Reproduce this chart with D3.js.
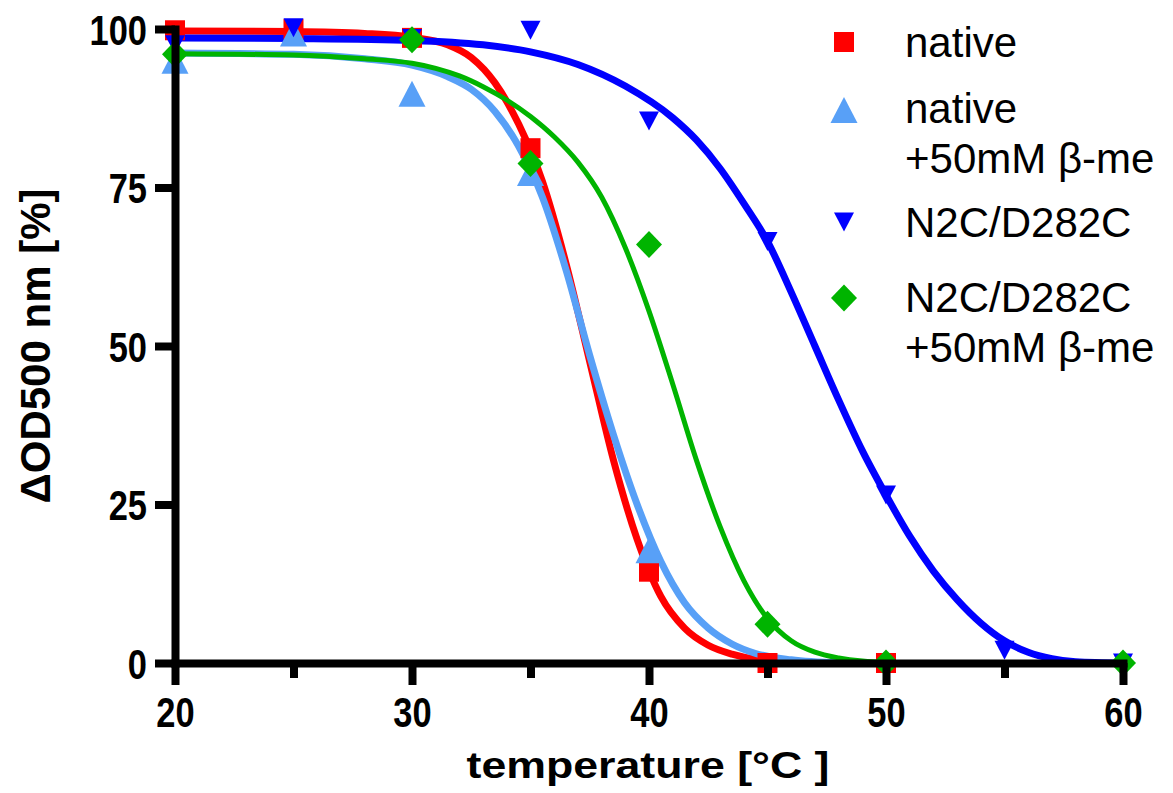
<!DOCTYPE html>
<html>
<head>
<meta charset="utf-8">
<script src="https://cdn.jsdelivr.net/npm/d3@7"></script>
<style>
  body { margin: 0; background: #fff; }
  text { font-family: "Liberation Sans", Arial, sans-serif; }
</style>
</head>
<body>
<div id="chart"></div>
<script>
// axis ticks
const xMajor = [20, 30, 40, 50, 60];
const xMinor = [25, 35, 45, 55];
const yTicks = [0, 25, 50, 75, 100];

// measured points
const nativeT = [20, 25, 30, 35, 40, 45, 50];
const nativeV = [99.8, 100, 98.6, 81.2, 14.4, 0, 0];
const nativeBmeT = [20, 25, 30, 35, 40];
const nativeBmeV = [95, 99.3, 89.8, 77.3, 17.8];
const mutantT = [20, 25, 30, 35, 40, 45, 50, 55, 60];
const mutantV = [97.5, 100.2, 98.5, 99.8, 85.5, 66.5, 26.5, 2, 0];
const mutantBmeT = [20, 30, 35, 40, 45, 50, 60];
const mutantBmeV = [96, 98.3, 78.8, 66, 6.1, 0, 0];

// fitted curves
const nativeFitT = [20, 25, 28, 30, 31.5, 32.5, 33.5, 34.5, 35.5, 36.5, 37.5, 38.5, 39.5, 40.5, 41.5, 42.5, 43.5, 44.5, 46, 48];
const nativeFitV = [99.7, 99.6, 99.3, 98.7, 97.5, 95.5, 91.5, 85, 76, 63, 47.5, 32, 19.5, 10.5, 5.5, 2.8, 1.4, 0.6, 0.2, 0];
const nativeBmeFitT = [20, 25, 28, 30, 31.5, 32.5, 33.5, 34.5, 35.5, 36.5, 37.5, 38.5, 39.5, 40.5, 41.5, 42.5, 43.5, 44.5, 46, 48];
const nativeBmeFitV = [96.2, 96, 95.3, 94.3, 92.5, 90.5, 87, 81.5, 73.5, 62, 48.5, 36, 25, 16, 9.5, 5.5, 3, 1.5, 0.5, 0];
const mutantFitT = [20, 25, 30, 33, 35, 37, 39, 41, 42, 43, 44, 45, 46, 47, 48, 49, 50, 51, 52, 53, 54, 55, 56, 57, 58, 60];
const mutantFitV = [98.6, 98.5, 98.2, 97.5, 96.4, 94.4, 91, 86, 82.5, 78, 72.5, 66.5, 58.5, 50, 41.5, 33.5, 26.5, 20, 14.5, 10, 6.3, 3.5, 1.7, 0.7, 0.2, 0];
const mutantBmeFitT = [20, 25, 28, 30, 31, 32, 33, 34, 35, 36, 37, 38, 39, 40, 41, 42, 43, 44, 45, 46, 47, 48, 49, 50, 52];
const mutantBmeFitV = [96.1, 95.9, 95.3, 94.6, 93.8, 92.6, 90.9, 88.8, 86.2, 83, 79, 73.5, 65.5, 55.5, 44, 32, 21.5, 13, 7, 3.5, 1.7, 0.8, 0.3, 0.1, 0];

const legendLabels = [["native"], ["native", "+50mM \u03b2-me"], ["N2C/D282C"], ["N2C/D282C", "+50mM \u03b2-me"]];

const zip = (a, b) => a.map((t, i) => [t, b[i]]);

const shapes = {
    square: "M-10,-10H10V10H-10Z",
    up: "M0,-13L13.5,13H-13.5Z",
    down: "M-10,-9.5H10L0,9.5Z",
    diamond: "M0,-13.5L13,0L0,13.5L-13,0Z"
};

const series = [
    { pts: zip(nativeT, nativeV), fit: zip(nativeFitT, nativeFitV), color: "#ff0000", shape: "square", lw: 7 },
    { pts: zip(nativeBmeT, nativeBmeV), fit: zip(nativeBmeFitT, nativeBmeFitV), color: "#58a0f7", shape: "up", lw: 7 },
    { pts: zip(mutantT, mutantV), fit: zip(mutantFitT, mutantFitV), color: "#0000ff", shape: "down", lw: 7 },
    { pts: zip(mutantBmeT, mutantBmeV), fit: zip(mutantBmeFitT, mutantBmeFitV), color: "#00b400", shape: "diamond", lw: 5 }
];

const W = 1173, H = 793;
const svg = d3.select("#chart").append("svg")
    .attr("width", W).attr("height", H)
    .style("background", "#fff");

const x = d3.scaleLinear().domain([20, 60]).range([175, 1123]);
const y = d3.scaleLinear().domain([0, 100]).range([663, 29]);

// curves
const line = d3.line()
    .x(d => x(d[0]))
    .y(d => y(d[1]))
    .curve(d3.curveMonotoneX);

svg.append("g").selectAll("path")
    .data(series)
    .enter()
    .append("path")
    .attr("d", d => line(d.fit))
    .attr("fill", "none")
    .attr("stroke", d => d.color)
    .attr("stroke-width", d => d.lw);

// markers
series.forEach(s => {
    svg.append("g").selectAll("path")
        .data(s.pts)
        .enter()
        .append("path")
        .attr("d", shapes[s.shape])
        .attr("transform", d => `translate(${x(d[0])},${y(d[1])})`)
        .attr("fill", s.color);
});

// narrow bold numbers (Arial Narrow look)
function narrow(sel) {
    sel.selectAll("text")
        .style("font-size", "42px")
        .style("font-weight", "bold")
        .attr("fill", "#000")
        .each(function () {
            const w = this.getComputedTextLength();
            d3.select(this).attr("textLength", w * 0.82).attr("lengthAdjust", "spacingAndGlyphs");
        });
}

// Y-Axis
const yAxis = svg.append("g")
    .attr("transform", `translate(${x(20)},0)`)
    .call(d3.axisLeft(y).tickValues(yTicks).tickSize(20).tickSizeOuter(0).tickPadding(8));
yAxis.selectAll("text").attr("dy", "0.36em");

// X-Axis minor ticks
svg.append("g")
    .attr("transform", `translate(0,${y(0)})`)
    .call(d3.axisBottom(x).tickValues(xMinor).tickSize(15).tickSizeOuter(0).tickFormat(""))
    .select(".domain").remove();

// X-Axis
const xAxis = svg.append("g")
    .attr("transform", `translate(0,${y(0)})`)
    .call(d3.axisBottom(x).tickValues(xMajor).tickSize(22).tickSizeOuter(0).tickPadding(12));

svg.selectAll(".domain, .tick line")
    .attr("stroke", "#000")
    .attr("stroke-width", 8)
    .attr("stroke-linecap", "square");
svg.selectAll(".tick line").attr("stroke-linecap", "butt");

narrow(yAxis);
narrow(xAxis);

// axis titles
svg.append("text")
    .attr("transform", `translate(50, ${y(50)}) rotate(-90)`)
    .attr("text-anchor", "middle")
    .style("font-size", "42px")
    .style("font-weight", "bold")
    .text("\u0394OD500 nm [%]");

svg.append("text")
    .attr("x", 648)
    .attr("y", 778)
    .attr("text-anchor", "middle")
    .attr("textLength", 363)
    .attr("lengthAdjust", "spacingAndGlyphs")
    .style("font-size", "37px")
    .style("font-weight", "bold")
    .text("temperature [\u00b0C ]");

// legend
const legendY = [42, 110, 222, 298];
const legendBase = [57, 123, 237, 312];
const legend = svg.append("g");
series.forEach((s, i) => {
    legend.append("path")
        .attr("d", shapes[s.shape])
        .attr("transform", `translate(844,${legendY[i]})`)
        .attr("fill", s.color);
    legendLabels[i].forEach((t, j) => {
        legend.append("text")
            .attr("x", 905)
            .attr("y", legendBase[i] + j * 50)
            .style("font-size", "42px")
            .attr("fill", "#000")
            .text(t);
    });
});
</script>
</body>
</html>
